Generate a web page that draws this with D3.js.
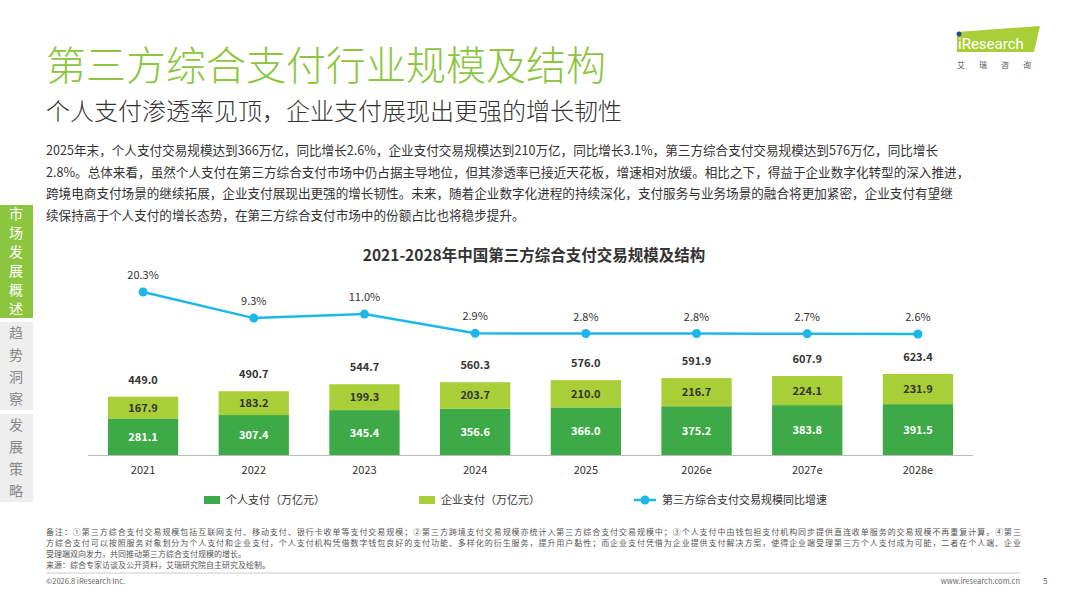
<!DOCTYPE html>
<html><head><meta charset="utf-8">
<script src="https://cdn.jsdelivr.net/npm/d3@7"></script>
<style>body{margin:0;background:#fff;font-family:"Noto Sans CJK SC","Noto Sans",sans-serif;}</style>
</head><body><svg id="c" width="1067" height="600"></svg>
<script>
const categories=["2021","2022","2023","2024","2025","2026e","2027e","2028e"];
const personal=[281.1,307.4,345.4,356.6,366.0,375.2,383.8,391.5];
const enterprise=[167.9,183.2,199.3,203.7,210.0,216.7,224.1,231.9];
const totals=[449.0,490.7,544.7,560.3,576.0,591.9,607.9,623.4];
const growth=[20.3,9.3,11.0,2.9,2.8,2.8,2.7,2.6];
const seriesNames=["个人支付（万亿元）","企业支付（万亿元）","第三方综合支付交易规模同比增速"];
const F='"Noto Sans CJK SC",sans-serif';
const svg=d3.select("#c");
const G1="#3DAA47",G2="#A9CF38",BL="#1CB8E8";
// header
svg.append("text").attr("x",46).attr("y",80).attr("font-size",40).attr("font-weight",300).attr("fill","#8CC63F").attr("font-family",F).text("第三方综合支付行业规模及结构");
svg.append("text").attr("x",46).attr("y",120).attr("font-size",24).attr("font-weight",300).attr("fill","#333").attr("font-family",F).text("个人支付渗透率见顶，企业支付展现出更强的增长韧性");
// logo
svg.append("path").attr("d","M957,32 L1040,26 L1034,52 L957,52Z").attr("fill","#A9CF38");
svg.append("circle").attr("cx",959).attr("cy",34).attr("r",2.5).attr("fill","#2a4a8a");
svg.append("text").attr("x",958).attr("y",49).attr("font-size",15).attr("fill","#fff").attr("font-family","Roboto").text("iResearch");
svg.append("text").attr("x",957).attr("y",68).attr("font-size",8).attr("fill","#555").attr("letter-spacing",14).attr("font-family",F).text("艾瑞咨询");
// paragraph
const para=["2025年末，个人支付交易规模达到366万亿，同比增长2.6%，企业支付交易规模达到210万亿，同比增长3.1%，第三方综合支付交易规模达到576万亿，同比增长",
"2.8%。总体来看，虽然个人支付在第三方综合支付市场中仍占据主导地位，但其渗透率已接近天花板，增速相对放缓。相比之下，得益于企业数字化转型的深入推进，",
"跨境电商支付场景的继续拓展，企业支付展现出更强的增长韧性。未来，随着企业数字化进程的持续深化，支付服务与业务场景的融合将更加紧密，企业支付有望继",
"续保持高于个人支付的增长态势，在第三方综合支付市场中的份额占比也将稳步提升。"];
para.forEach((t,i)=>svg.append("text").attr("x",46).attr("y",155+i*21.5).attr("font-size",12.6).attr("fill","#333").attr("font-family",F).text(t));
// side nav
const nav=[["市场发展概述",205,318,"#8CC63F","#fff"],["趋势洞察",322,410,"#eee","#888"],["发展策略",414,502,"#eee","#888"]];
nav.forEach(n=>{svg.append("rect").attr("x",0).attr("y",n[1]).attr("width",33).attr("height",n[2]-n[1]).attr("fill",n[3]);
 const ch=[...n[0]];const step=(n[2]-n[1])/ch.length;
 ch.forEach((c,i)=>svg.append("text").attr("x",16).attr("y",n[1]+step*(i+0.5)+5).attr("text-anchor","middle").attr("font-size",14).attr("fill",n[4]).attr("font-family",F).text(c));});
// chart title
svg.append("text").attr("x",534).attr("y",261).attr("text-anchor","middle").attr("font-size",15.5).attr("font-weight","bold").attr("fill","#333").attr("font-family",F).text("2021-2028年中国第三方综合支付交易规模及结构");
const x=d3.scaleBand().domain(categories).range([88,973]).paddingInner(0.365).paddingOuter(0.18);
const y=d3.scaleLinear().domain([0,623.4]).range([455,374]);
const yl=d3.scaleLinear().domain([0,20.3]).range([340.2,292]);
const g=svg.append("g");
categories.forEach((c,i)=>{
 const bx=x(c),bw=x.bandwidth(),cx=bx+bw/2;
 g.append("rect").attr("x",bx).attr("width",bw).attr("y",y(personal[i])).attr("height",y(0)-y(personal[i])).attr("fill",G1);
 g.append("rect").attr("x",bx).attr("width",bw).attr("y",y(totals[i])).attr("height",y(personal[i])-y(totals[i])).attr("fill",G2);
 g.append("text").attr("x",cx).attr("y",(y(0)+y(personal[i]))/2+4).attr("text-anchor","middle").attr("font-size",11).attr("font-weight","bold").attr("fill","#fff").attr("font-family",F).text(personal[i].toFixed(1));
 g.append("text").attr("x",cx).attr("y",(y(personal[i])+y(totals[i]))/2+4).attr("text-anchor","middle").attr("font-size",11).attr("font-weight","bold").attr("fill","#333").attr("font-family",F).text(enterprise[i].toFixed(1));
 g.append("text").attr("x",cx).attr("y",y(totals[i])-13).attr("text-anchor","middle").attr("font-size",11).attr("font-weight","bold").attr("fill","#333").attr("font-family",F).text(totals[i].toFixed(1));
});
const ax=svg.append("g").attr("transform","translate(0,455)").call(d3.axisBottom(x).tickSize(0).tickPadding(11));
ax.select(".domain").attr("stroke","#bbb").attr("d","M88,0.5H973");
ax.selectAll("text").attr("font-size",11).attr("fill","#333").attr("font-family",F);
const cxs=categories.map(c=>x(c)+x.bandwidth()/2);
svg.append("path").datum(growth).attr("fill","none").attr("stroke",BL).attr("stroke-width",2.5)
 .attr("d",d3.line().x((d,i)=>cxs[i]).y(d=>yl(d)));
growth.forEach((v,i)=>{svg.append("circle").attr("cx",cxs[i]).attr("cy",yl(v)).attr("r",4.5).attr("fill",BL);
 svg.append("text").attr("x",cxs[i]).attr("y",yl(v)-13).attr("text-anchor","middle").attr("font-size",11).attr("fill","#333").attr("font-family",F).text(v.toFixed(1)+"%");});
// legend
const lg=svg.append("g").attr("font-family",F).attr("font-size",11).attr("fill","#333");
lg.append("rect").attr("x",204).attr("y",496).attr("width",16).attr("height",8).attr("fill",G1);
lg.append("text").attr("x",226).attr("y",504).text(seriesNames[0]);
lg.append("rect").attr("x",419).attr("y",496).attr("width",16).attr("height",8).attr("fill",G2);
lg.append("text").attr("x",441).attr("y",504).text(seriesNames[1]);
lg.append("line").attr("x1",634).attr("x2",656).attr("y1",500).attr("y2",500).attr("stroke",BL).attr("stroke-width",2.5);
lg.append("circle").attr("cx",645).attr("cy",500).attr("r",4.5).attr("fill",BL);
lg.append("text").attr("x",662).attr("y",504).text(seriesNames[2]);
// notes
const notes=["备注：①第三方综合支付交易规模包括互联网支付、移动支付、银行卡收单等支付交易规模；②第三方跨境支付交易规模亦统计入第三方综合支付交易规模中；③个人支付中由钱包担支付机构同步提供直连收单服务的交易规模不再重复计算。④第三",
"方综合支付可以按照服务对象划分为个人支付和企业支付，个人支付机构凭借数字钱包良好的支付功能、多样化的衍生服务，提升用户黏性；而企业支付凭借为企业提供支付解决方案，使得企业端受理第三方个人支付成为可能，二者在个人端、企业",
"受理端双向发力，共同推动第三方综合支付规模的增长。","来源：综合专家访谈及公开资料，艾瑞研究院自主研究及绘制。"];
notes.forEach((t,i)=>svg.append("text").attr("x",46).attr("y",535+i*11).attr("font-size",8).attr("fill","#555").attr("font-family",F).attr("textLength",i<2?975:null).text(t));
svg.append("line").attr("x1",46).attr("x2",1020).attr("y1",573).attr("y2",573).attr("stroke","#ccc");
svg.append("text").attr("x",46).attr("y",584).attr("font-size",7.5).attr("fill","#666").attr("font-family",F).text("©2026.8 iResearch Inc.");
svg.append("text").attr("x",1020).attr("y",584).attr("text-anchor","end").attr("font-size",7.5).attr("fill","#666").attr("font-family",F).text("www.iresearch.com.cn");
svg.append("text").attr("x",1043).attr("y",584).attr("font-size",8).attr("fill","#666").attr("font-family",F).text("5");
</script></body></html>
